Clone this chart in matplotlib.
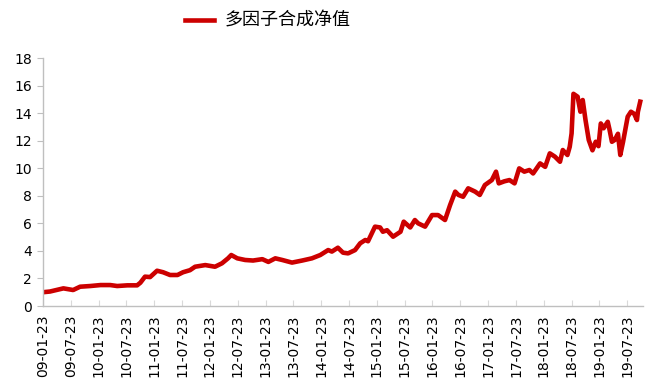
import numpy as np
import matplotlib
matplotlib.use("Agg")
import matplotlib.pyplot as plt

# months after 2009-01-23
months = [0.0, 1.5, 4.4, 6.5, 8.0, 10.2, 12.4, 14.5, 16.0, 18.2, 20.3, 21.0,
          22.0, 23.1, 24.6, 25.9, 27.4, 29.0, 30.2, 31.7, 32.8, 35.0, 37.1,
          38.6, 39.9, 40.6, 41.9, 43.6, 45.3, 47.3, 48.6, 50.1, 51.6, 53.7,
          55.9, 58.0, 59.8, 61.5, 62.3, 63.6, 64.7, 65.8, 67.3, 68.4, 69.5,
          70.1, 71.6, 72.7, 73.3, 74.2, 75.5, 77.1, 77.8, 79.2, 80.2, 80.9,
          82.4, 83.9, 85.2, 86.7, 87.8, 88.9, 89.6, 90.6, 91.7, 93.2, 94.2,
          95.3, 96.8, 97.7, 98.3, 99.5, 100.6, 101.7, 102.7, 103.8, 104.9,
          105.7, 107.2, 108.3, 109.3, 110.4, 111.5, 112.1, 113.1, 113.6,
          114.0, 114.4, 115.3, 115.9, 116.4, 117.0, 117.7, 118.5, 119.2,
          119.8, 120.3, 120.9, 121.8, 122.2, 122.7, 123.3, 124.0, 124.5,
          125.1, 126.1, 126.8, 127.5, 128.1, 128.3, 128.8]
nav = [1.00, 1.05, 1.28, 1.16, 1.40, 1.45, 1.52, 1.52, 1.45, 1.50, 1.50, 1.69,
       2.13, 2.10, 2.56, 2.45, 2.25, 2.25, 2.45, 2.60, 2.85, 2.97, 2.85,
       3.10, 3.46, 3.70, 3.46, 3.34, 3.30, 3.40, 3.20, 3.46, 3.34, 3.15,
       3.30, 3.46, 3.70, 4.06, 3.95, 4.23, 3.87, 3.82, 4.06, 4.55, 4.79,
       4.70, 5.76, 5.70, 5.39, 5.50, 5.03, 5.39, 6.12, 5.70, 6.24, 6.00,
       5.76, 6.60, 6.60, 6.24, 7.33, 8.30, 8.06, 7.93, 8.54, 8.30, 8.06,
       8.78, 9.14, 9.75, 8.90, 9.05, 9.14, 8.90, 9.99, 9.75, 9.87,
       9.62, 10.35, 10.10, 11.08, 10.84, 10.47, 11.32, 10.96, 11.56,
       12.53, 15.40, 15.19, 14.10, 14.95, 13.50, 12.05, 11.30, 11.92,
       11.60, 13.25, 12.90, 13.37, 12.77, 11.92, 12.05, 12.50, 10.96,
       11.92, 13.74, 14.10, 13.95, 13.50, 14.10, 14.83]

tick_labels = ['09-01-23', '09-07-23', '10-01-23', '10-07-23', '11-01-23',
               '11-07-23', '12-01-23', '12-07-23', '13-01-23', '13-07-23',
               '14-01-23', '14-07-23', '15-01-23', '15-07-23', '16-01-23',
               '16-07-23', '17-01-23', '17-07-23', '18-01-23', '18-07-23',
               '19-01-23', '19-07-23']

plt.rcParams['font.family'] = ['DejaVu Sans']

fig = plt.figure(figsize=(6.51, 3.84), dpi=100)
ax = fig.add_axes([43 / 651, 1 - 306 / 384, 600 / 651, 248 / 384])

line, = ax.plot(months, nav, color='#CC0000', linewidth=3.3,
                solid_joinstyle='round')

ax.set_xlim(0, 129.4)
ax.set_ylim(0, 18)
ax.set_yticks(np.arange(0, 19, 2))
ax.set_xticks(np.arange(0, 6 * len(tick_labels), 6))
ax.set_xticklabels(tick_labels, rotation=90)

for side in ['top', 'right']:
    ax.spines[side].set_visible(False)
for side in ['left', 'bottom']:
    ax.spines[side].set_color('#BFBFBF')
    ax.spines[side].set_linewidth(1.0)

ax.tick_params(axis='y', direction='out', length=4, color='#BFBFBF',
               labelsize=10, pad=4)
ax.tick_params(axis='x', direction='in', length=4, color='#D9D9D9',
               labelsize=10, pad=6)

fig.legend([line], ['多因子合成净值'], loc='center',
           bbox_to_anchor=(268 / 651, 1 - 21 / 384), frameon=False,
           prop={'family': ['Noto Sans CJK SC', 'DejaVu Sans'], 'size': 13},
           handlelength=1.6, handletextpad=0.6)

fig.savefig('out.png', dpi=100)
